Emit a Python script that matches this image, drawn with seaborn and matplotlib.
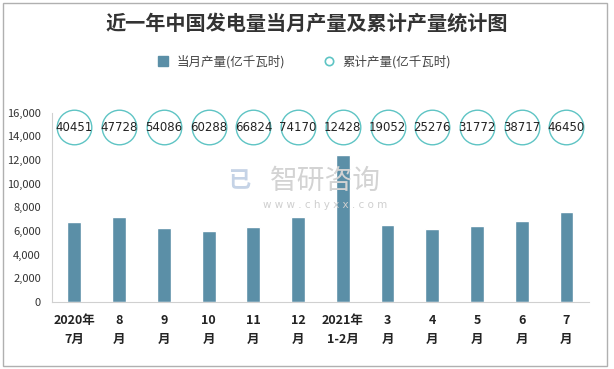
import matplotlib
matplotlib.use("Agg")
import matplotlib.pyplot as plt
import seaborn as sns
import pandas as pd
from matplotlib.patches import Rectangle
from matplotlib.lines import Line2D

sns.set_style("white")
plt.rcParams['font.family'] = ['Noto Sans CJK SC', 'DejaVu Sans']

months = ["2020年\n7月", "8\n月", "9\n月", "10\n月", "11\n月", "12\n月",
          "2021年\n1-2月", "3\n月", "4\n月", "5\n月", "6\n月", "7\n月"]
monthly = [6800, 7225, 6290, 6030, 6370, 7225, 12428, 6540, 6200, 6460, 6880, 7570]
cumulative = [40451, 47728, 54086, 60288, 66824, 74170,
              12428, 19052, 25276, 31772, 38717, 46450]

bar_color = "#5b8fa7"
ring_color = "#5ec4c4"
circle_y = 14750

df = pd.DataFrame({"month": months, "monthly": monthly, "cumulative": cumulative})

fig = plt.figure(figsize=(6.14, 3.69), dpi=100)
ax = fig.add_axes([0.0847, 0.1816, 0.8743, 0.513])

sns.barplot(data=df, x="month", y="monthly", color=bar_color, width=0.31,
            saturation=1, ax=ax)
sns.scatterplot(x=df["month"], y=[circle_y] * len(df), s=620, marker="o",
                facecolor="white", edgecolor=ring_color, linewidth=1.0,
                ax=ax, zorder=3, legend=False, clip_on=False)
for i, v in enumerate(cumulative):
    ax.text(i, circle_y, str(v), ha="center", va="center", fontsize=8.5,
            color="#222222", zorder=4, family="DejaVu Sans")

ax.set_ylim(0, 16000)
ax.set_xlim(-0.5, len(months) - 0.5)
ax.set_yticks(range(0, 16001, 2000))
ax.set_yticklabels([f"{v:,}" for v in range(0, 16001, 2000)])
ax.set_xlabel("")
ax.set_ylabel("")
ax.tick_params(axis="y", length=0, pad=8, labelsize=8, labelcolor="#333333")
ax.tick_params(axis="x", which="major", length=0, pad=9, labelsize=9,
               labelcolor="#222222")
ax.set_xticks([i - 0.5 for i in range(len(months) + 1)], minor=True)
ax.tick_params(axis="x", which="minor", length=4, color="#d0d0d0", direction="out")
for lbl in ax.get_xticklabels():
    lbl.set_fontweight("bold")
    lbl.set_linespacing(1.5)

for s in ["top", "right"]:
    ax.spines[s].set_visible(False)
ax.spines["left"].set_color("#d0d0d0")
ax.spines["bottom"].set_color("#d0d0d0")

# watermark
fig.text(0.53, 0.51, "智研咨询", fontsize=20, color="#d3d3d3", ha="center",
         va="center", zorder=0)
fig.text(0.53, 0.445, "w w w . c h y x x . c o m", fontsize=7.5, color="#cfcfcf",
         ha="center", va="center", zorder=0, family="DejaVu Sans")
fig.text(0.39, 0.51, "已", fontsize=16, color="#c5d3e6", ha="center",
         va="center", fontweight="bold", zorder=0)

fig.suptitle("近一年中国发电量当月产量及累计产量统计图", y=0.965, fontsize=14.5,
             fontweight="bold", color="#333333")

handles = [
    Line2D([], [], marker="s", linestyle="", markersize=7, color=bar_color),
    Line2D([], [], marker="o", linestyle="", markersize=6, markerfacecolor="white",
           markeredgecolor=ring_color, markeredgewidth=1.2),
]
fig.legend(handles, ["当月产量(亿千瓦时)", "累计产量(亿千瓦时)"], loc="center",
           bbox_to_anchor=(0.49, 0.832), ncol=2, frameon=False, fontsize=9,
           handletextpad=0.1, columnspacing=2.5, labelcolor="#444444")

fig.patches.append(Rectangle((0.005, 0.008), 0.983, 0.984, transform=fig.transFigure,
                             fill=False, edgecolor="#b0b0b0", linewidth=1.0))

fig.savefig("out.png", dpi=100)
